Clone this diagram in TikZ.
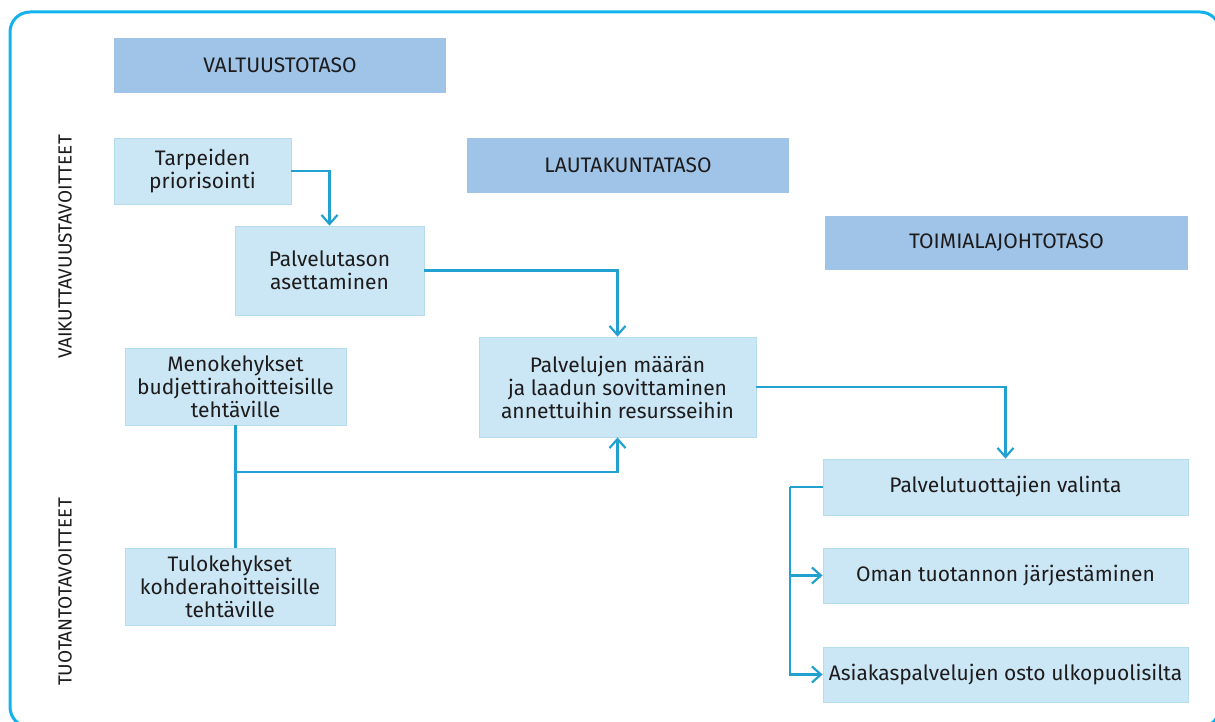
\documentclass[tikz,border=0pt]{standalone}
\usepackage{fontspec}
\setmainfont{Fira Sans}
\usetikzlibrary{arrows.meta}
\definecolor{frameblue}{HTML}{14B2EC}
\definecolor{lineblue}{HTML}{22A0D0}
\definecolor{headblue}{HTML}{9FC4E7}
\definecolor{boxblue}{HTML}{CBE7F6}
\definecolor{boxedge}{HTML}{B5DCEA}
\definecolor{ink}{HTML}{1E1B1C}
\begin{document}
\begin{tikzpicture}[x=1pt,y=-1pt,
    level/.style={fill=headblue,text=ink,minimum height=55pt,font=\fontsize{21}{25}\selectfont},
    task/.style={fill=boxblue,draw=boxedge,line width=0.8pt,text=ink,align=center,font=\fontsize{21}{23}\selectfont},
    goal/.style={rotate=90,text=ink,font=\fontsize{19}{22}\selectfont},
    flow/.style={draw=lineblue,line width=2.2pt},
    tip/.style={-{Straight Barb[length=9pt,width=16pt,line width=2.2pt]}}]
  \useasboundingbox (0,0) rectangle (1215,722);
  \draw[frameblue,line width=3pt,rounded corners=20pt] (10,12) rectangle (1220,727);

  % levels
  \node[level,minimum width=332pt] (valtuusto) at (280,65.5) {VALTUUSTOTASO};
  \node[level,minimum width=322pt] (lautakunta) at (628,165.5) {LAUTAKUNTATASO};
  \node[level,minimum width=363pt,minimum height=54pt] (toimiala) at (1006.5,243) {TOIMIALAJOHTOTASO};

  % goals
  \node[goal] (vaikutus) at (65,247) {VAIKUTTAVUUSTAVOITTEET};
  \node[goal] (tuotanto) at (65,592) {TUOTANTOTAVOITTEET};

  % tasks
  \node[task,minimum width=177pt,minimum height=66pt] (tarpeet) at (202.5,171) {Tarpeiden\\priorisointi};
  \node[task,minimum width=189pt,minimum height=89pt] (palvelutaso) at (329.5,270.5) {Palvelutason\\asettaminen};
  \node[task,minimum width=221pt,minimum height=77pt] (menot) at (235.5,386.5) {Menokehykset\\budjettirahoitteisille\\tehtäville};
  \node[task,minimum width=277pt,minimum height=100pt] (maara) at (617.5,387) {Palvelujen määrän\\ja laadun sovittaminen\\annettuihin resursseihin};
  \node[task,minimum width=210pt,minimum height=77pt] (tulot) at (230,586.5) {Tulokehykset\\kohderahoitteisille\\tehtäville};
  \node[task,minimum width=365pt,minimum height=56pt] (valinta) at (1005.5,487) {Palvelutuottajien valinta};
  \node[task,minimum width=365pt,minimum height=55pt] (oma) at (1005.5,575.5) {Oman tuotannon järjestäminen};
  \node[task,minimum width=365pt,minimum height=55pt] (osto) at (1005.5,674.5) {Asiakaspalvelujen osto ulkopuolisilta};

  % connectors
  \coordinate (kehys) at (235.5,472);
  \coordinate (haara) at (790,487);
  \draw[flow,tip] (tarpeet.east) -| (palvelutaso.north);
  \draw[flow,tip] (palvelutaso.east) -| (maara.north);
  \draw[flow] (menot.south) -- (menot.south |- tulot.north);
  \draw[flow,tip] (kehys) -| (maara.south);
  \draw[flow,tip] (maara.east) -| (valinta.north);
  \draw[flow] (valinta.west) -- (haara);
  \foreach \n in {oma,osto}
    \draw[flow,tip] (haara) |- (\n.west);
\end{tikzpicture}
\end{document}
